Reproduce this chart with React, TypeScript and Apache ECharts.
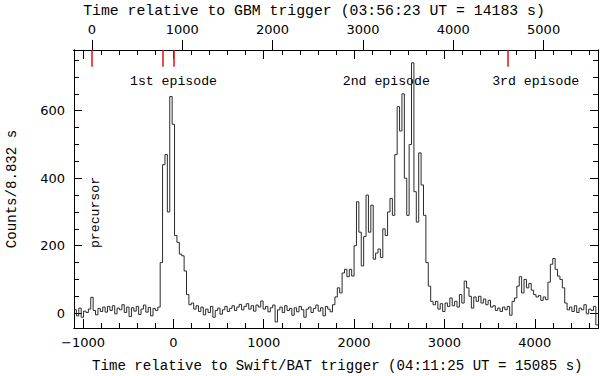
import React, { useEffect, useRef } from "react";
import * as echarts from "echarts";

// Swift/BAT light curve, bins of 3 x 8.832 s starting at -1100 s (BAT time)
const BIN_START = -1100;
const BIN_WIDTH = 26.496;
const counts: number[] = [
  10, -8, 15, -12, 6, 2, 12, 47, 8, -5,
  14, 5, 18, 3, 20, 8, 22, -2, 15, 10,
  25, 2, 18, -10, 16, 6, 20, -4, 12, 24,
  3, 17, -8, 14, 8, 18,
  150, 440, 470, 300, 642, 560, 230, 210, 175, 170, 125, 55, 25,
  30, 12, 22, 5, 18, -5, 12, 2, 20, -12, 8,
  15, -3, 10, 20, 5, 14, 22, 8, 18, 26,
  10, 20, 28, 12, 22, 6, 24, 18, 36, 12,
  20, 4, 16, 24, -26, 10, 18, 2, 22, 8,
  14, -6, 16, 4, 20, 10, -12, 12, 18, 2,
  14, 24, 6, 16, -8, 20, 12, 4,
  25, 48, 75, 60, 119, 130, 108, 130, 110, 200, 330, 240,
  140, 227, 350, 240, 320, 160, 178, 190, 165, 250,
  230, 300, 340, 290, 470, 612, 540, 650, 400, 290,
  500, 742, 360, 270, 475, 380, 290, 150, 80, 35,
  25, 35, 12, 28, 5, 30, 20, 45, 22, 35,
  18, 55, 30, 95, 75, 50, 15, 48, 35, 50,
  30, 42, 25, 38, 18, 22, 8, 15, 5, 18,
  10, 20, -6, 35, 45, 80, 108, 60, 100, 75,
  88, 68, 55, 48, 52, 38, 48, 40, 92, 145,
  162, 130, 110, 100, 75, 30, 10, 18, 5, 22,
  2, 15, 10, 25, -2, 12, 8, 20, -35,
];

const X_MIN = -1100;
const X_MAX = 4700;
const Y_MIN = -44;
const Y_MAX = 780;
const GBM_OFFSET = 902; // 15085 - 14183 s

const batMajorTicks = [-1000, 0, 1000, 2000, 3000, 4000];
const gbmMajorTicks = [0, 1000, 2000, 3000, 4000, 5000];
const yMajorTicks = [0, 200, 400, 600];
// red markers (BAT time): GBM trigger, start of 1st episode, BAT trigger, 3rd episode
const redMarks = [-902, -120, 0, 3700];

const episodeLabels = ["1st episode", "2nd episode", "3rd episode"];

function rangeStep(a: number, b: number, s: number) {
  const r: number[] = [];
  for (let v = a; v <= b; v += s) r.push(v);
  return r;
}

const batMinorTicks = rangeStep(-1000, 4600, 200);
const yMinorTicks = rangeStep(0, 750, 50);

const MONO = '"Liberation Mono", monospace';
const SANS = '"DejaVu Sans", sans-serif';

export default function App() {
  const ref = useRef<HTMLDivElement>(null);
  useEffect(() => {
    if (!ref.current) return;
    const chart = echarts.init(ref.current, undefined, { renderer: "svg" });
    const data: number[][] = counts.map((v, i) => [BIN_START + i * BIN_WIDTH, v]);
    data.push([BIN_START + counts.length * BIN_WIDTH, counts[counts.length - 1]]);

    const fmt = (v: number) => (v < 0 ? "\u2212" + Math.abs(v) : String(v));
    const line = { show: true, onZero: false, lineStyle: { color: "#000", width: 1 } };
    const noSplit = { show: false };
    const tickStyle = { color: "#000", width: 1 };

    const xBase = {
      type: "value" as const,
      min: X_MIN,
      max: X_MAX,
      splitLine: noSplit,
      axisLine: line,
    };
    const yBase = {
      type: "value" as const,
      min: Y_MIN,
      max: Y_MAX,
      splitLine: noSplit,
      axisLine: line,
    };

    const option: any = {
      animation: false,
      grid: { left: 74, right: 2, top: 50, bottom: 48, containLabel: false },
      xAxis: [
        {
          ...xBase,
          position: "bottom",
          axisTick: { inside: true, length: 9, customValues: batMajorTicks, lineStyle: tickStyle },
          axisLabel: {
            customValues: batMajorTicks,
            formatter: fmt,
            color: "#000",
            fontFamily: SANS,
            fontSize: 13,
            margin: 8,
          },
        },
        {
          ...xBase,
          position: "bottom",
          axisTick: { inside: true, length: 5, customValues: batMinorTicks, lineStyle: tickStyle },
          axisLabel: { show: false },
        },
        {
          ...xBase,
          position: "top",
          axisTick: { inside: true, length: 9, customValues: batMajorTicks, lineStyle: tickStyle },
          axisLabel: { show: false },
        },
        {
          ...xBase,
          position: "top",
          axisTick: { inside: true, length: 5, customValues: batMinorTicks, lineStyle: tickStyle },
          axisLabel: { show: false },
        },
        {
          type: "value",
          position: "top",
          min: X_MIN + GBM_OFFSET,
          max: X_MAX + GBM_OFFSET,
          splitLine: noSplit,
          axisLine: line,
          axisTick: { inside: false, length: 10, customValues: gbmMajorTicks, lineStyle: tickStyle },
          axisLabel: {
            customValues: gbmMajorTicks,
            formatter: fmt,
            color: "#000",
            fontFamily: SANS,
            fontSize: 13,
            margin: 14,
          },
        },
      ],
      yAxis: [
        {
          ...yBase,
          position: "left",
          axisTick: { inside: true, length: 8, customValues: yMajorTicks, lineStyle: tickStyle },
          axisLabel: {
            customValues: yMajorTicks,
            formatter: fmt,
            color: "#000",
            fontFamily: SANS,
            fontSize: 13,
            margin: 9,
          },
        },
        {
          ...yBase,
          position: "left",
          axisTick: { inside: true, length: 5, customValues: yMinorTicks, lineStyle: tickStyle },
          axisLabel: { show: false },
        },
        {
          ...yBase,
          position: "right",
          axisTick: { inside: true, length: 8, customValues: yMajorTicks, lineStyle: tickStyle },
          axisLabel: { show: false },
        },
        {
          ...yBase,
          position: "right",
          axisTick: { inside: true, length: 5, customValues: yMinorTicks, lineStyle: tickStyle },
          axisLabel: { show: false },
        },
      ],
      series: [
        {
          type: "line",
          xAxisIndex: 0,
          yAxisIndex: 0,
          data,
          step: "end",
          showSymbol: false,
          symbol: "none",
          clip: true,
          lineStyle: { color: "#2a2a2a", width: 1 },
          silent: true,
          markLine: {
            silent: true,
            symbol: ["none", "none"],
            label: { show: false },
            lineStyle: { color: "#e01010", type: "solid", width: 1.5 },
            data: redMarks.map((m) => [
              { coord: [m, Y_MAX] },
              { coord: [m, Y_MAX - 50] },
            ]),
          },
        },
      ],
      graphic: [
        {
          type: "text",
          x: 314,
          y: 11,
          style: {
            text: "Time relative to GBM trigger (03:56:23 UT = 14183 s)",
            font: `14.8px ${MONO}`,
            fill: "#000",
            textAlign: "center",
            textVerticalAlign: "middle",
            align: "center",
            verticalAlign: "middle",
          },
        },
        {
          type: "text",
          x: 337.3,
          y: 366,
          style: {
            text: "Time relative to Swift/BAT trigger (04:11:25 UT = 15085 s)",
            font: `14.1px ${MONO}`,
            fill: "#000",
            textAlign: "center",
            textVerticalAlign: "middle",
            align: "center",
            verticalAlign: "middle",
          },
        },
        {
          type: "text",
          x: 12,
          y: 189,
          rotation: Math.PI / 2,
          style: {
            text: "Counts/8.832 s",
            font: `14.1px ${MONO}`,
            fill: "#000",
            textAlign: "center",
            textVerticalAlign: "middle",
            align: "center",
            verticalAlign: "middle",
          },
        },
        ...episodeLabels.map((t, k) => ({
          type: "text",
          x: [173.5, 386.3, 535.7][k],
          y: 81,
          style: {
            text: t,
            font: `13.2px ${MONO}`,
            fill: "#000",
            textAlign: "center",
            textVerticalAlign: "middle",
            align: "center",
            verticalAlign: "middle",
          },
        })),
        {
          type: "text",
          x: 95,
          y: 212.5,
          rotation: Math.PI / 2,
          style: {
            text: "precursor",
            font: `13.2px ${MONO}`,
            fill: "#000",
            textAlign: "center",
            textVerticalAlign: "middle",
            align: "center",
            verticalAlign: "middle",
          },
        },
      ],
    };
    chart.setOption(option);
    return () => chart.dispose();
  }, []);
  return (
    <div
      ref={ref}
      style={{ position: "fixed", left: 0, top: 0, width: 600, height: 376, background: "#fff" }}
    />
  );
}
